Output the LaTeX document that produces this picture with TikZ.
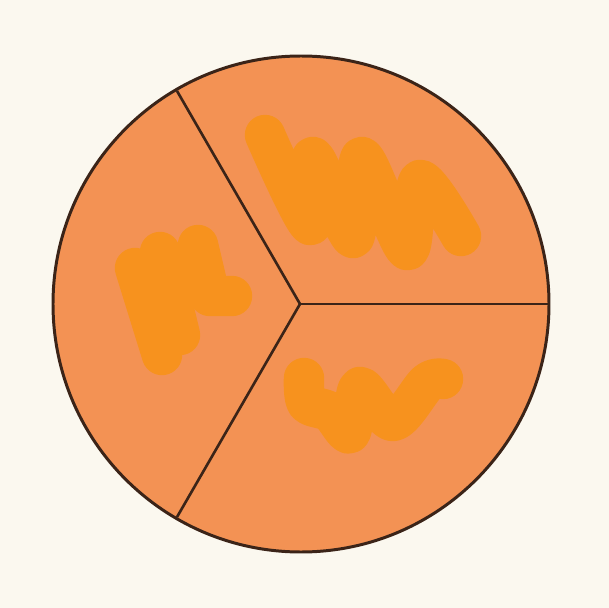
\documentclass[tikz,border=0pt]{standalone}
\usepackage{xcolor}
\usepackage{tikz}
\usetikzlibrary{calc}
\definecolor{paper}{HTML}{FBF8EF}
\definecolor{pie}{HTML}{F39254}
\definecolor{rim}{HTML}{3B2418}
\definecolor{marker}{HTML}{F7921E}

\begin{document}
\begin{tikzpicture}[
    x=0.02cm, y=-0.02cm,
    outline/.style={draw=rim, line width=1.7pt},
    divider/.style={draw=rim, line width=1.5pt},
    scribble/.style={draw=marker, line width=23pt, line cap=round, line join=round}
]
    \fill[paper] (0,0) rectangle (609,608);
    \useasboundingbox (0,0) rectangle (609,608);
    \coordinate (ctr) at (300,304);
    \fill[pie] (301,304) circle (248);

    % redaction marks
    \draw[scribble] (135,268) -- (162,355);
    \draw[scribble] (160,252) -- (180,335);
    \draw[scribble] (198,245) -- (210,296) -- (232,296);
    \draw[scribble] plot[smooth, tension=0.55] coordinates
        {(265,135) (310,225) (313,157) (353,238) (362,157) (407,250) (420,180) (461,236)};
    \draw[scribble] plot[smooth, tension=0.55] coordinates
        {(304,378) (307,403) (330,412) (350,433) (360,387) (393,421) (427,383) (443,379)};

    % sectors
    \draw[divider] (ctr) -- ++(0:250);
    \draw[divider] (ctr) -- ++(-120:246);
    \draw[divider] (ctr) -- ++(120:246);
    \draw[outline] (301,304) circle (248);
\end{tikzpicture}
\end{document}
